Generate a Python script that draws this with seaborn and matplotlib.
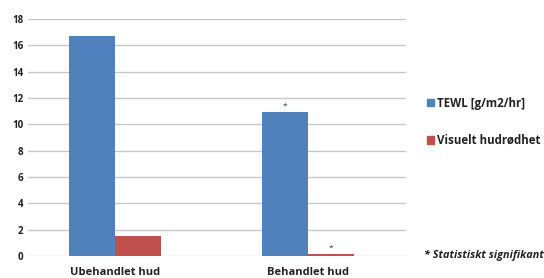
import matplotlib
matplotlib.use("Agg")
import matplotlib.pyplot as plt
import seaborn as sns
import pandas as pd

categories = ["Ubehandlet hud", "Behandlet hud"]
series_names = ["TEWL [g/m2/hr]", "Visuelt hudrødhet"]
tewl = [16.7, 10.9]
redness = [1.5, 0.12]
significant_tewl = [False, True]
significant_red = [False, True]
yticks = [0, 2, 4, 6, 8, 10, 12, 14, 16, 18]

df = pd.DataFrame({
    "kategori": categories * 2,
    "serie": [series_names[0]] * 2 + [series_names[1]] * 2,
    "verdi": tewl + redness,
})

sns.set_style("white")
plt.rcParams["font.family"] = ["Open Sans", "DejaVu Sans"]

fig = plt.figure(figsize=(5.44, 2.78), dpi=100)
ax = fig.add_axes([0.0515, 0.079, 0.695, 0.853])

palette = {series_names[0]: "#4F81BD", series_names[1]: "#C0504D"}
sns.barplot(data=df, x="kategori", y="verdi", hue="serie", palette=palette,
            width=0.477, gap=0, saturation=1, linewidth=0, ax=ax,
            legend=False, zorder=3)

ax.set_ylim(0, 18)
ax.set_xlim(-0.45, 1.508)
ax.set_yticks(yticks)
ax.yaxis.grid(True, color="#c8c8c8", linewidth=1.0, zorder=0)
ax.set_axisbelow(True)
for s in ax.spines.values():
    s.set_visible(False)
ax.tick_params(axis="both", length=0, labelsize=7, colors="#222222")
ax.tick_params(axis="x", labelsize=8, pad=8)
for lbl in ax.get_xticklabels() + ax.get_yticklabels():
    lbl.set_fontweight("bold")
ax.set_xlabel("")
ax.set_ylabel("")

# asterisks for significant values
off = 0.477 / 4
for i, (v, sig) in enumerate(zip(tewl, significant_tewl)):
    if sig:
        ax.text(i - off, v + 0.2, "*", ha="center", va="bottom", fontsize=6, color="#333333")
for i, (v, sig) in enumerate(zip(redness, significant_red)):
    if sig:
        ax.text(i + off, v + 0.2, "*", ha="center", va="bottom", fontsize=6, color="#333333")

handles = [plt.Rectangle((0, 0), 1, 1, color=palette[n]) for n in series_names]
leg = fig.legend(handles, series_names, loc="upper left", bbox_to_anchor=(0.765, 0.69),
                 frameon=False, handlelength=0.65, handleheight=0.65, handletextpad=0.3,
                 labelspacing=2.1, fontsize=8.3)
for t in leg.get_texts():
    t.set_fontweight("bold")
    t.set_color("#222222")

fig.text(0.779, 0.083, "* Statistiskt signifikant", fontsize=7.8, style="italic",
         fontweight="bold", color="#222222", va="center")

fig.savefig("out.png", dpi=100)
